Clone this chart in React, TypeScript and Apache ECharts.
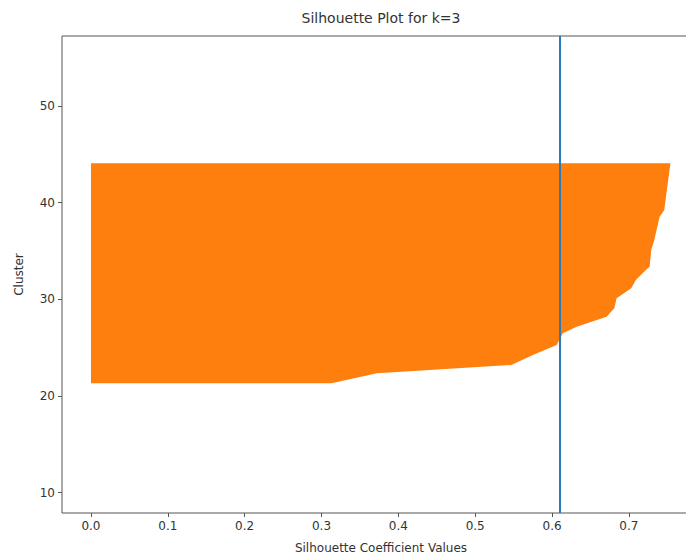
import React, { useEffect, useRef } from "react";
import * as echarts from "echarts";

// Silhouette sample positions (y) and coefficient values (x)
const yPositions = [21.3, 22.34, 23.2, 24.23, 25.27, 26.48, 27.16, 28.2, 28.55, 29.07, 30.1, 31.14, 32.0, 33.03, 33.37, 35.1, 36.14, 38.55, 39.24, 44.08];
const silhouetteValues = [0.313, 0.372, 0.547, 0.575, 0.606, 0.614, 0.632, 0.671, 0.675, 0.681, 0.684, 0.703, 0.709, 0.722, 0.727, 0.729, 0.733, 0.74, 0.746, 0.754];
const averageScore = 0.615;
const xTicks = [0, 0.1, 0.2, 0.3, 0.4, 0.5, 0.6, 0.7];
const yTicks = [10, 20, 30, 40, 50];
const titleText = "Silhouette Plot for k=3";
const xName = "Silhouette Coefficient Values";
const yName = "Cluster";

const FONT = "DejaVu Sans";

export default function App() {
  const ref = useRef<HTMLDivElement>(null);
  useEffect(() => {
    if (!ref.current) return;
    const chart = echarts.init(ref.current, null, { renderer: "svg" });
    const last = yPositions.length - 1;
    chart.setOption({
      animation: false,
      backgroundColor: "#ffffff",
      graphic: [
        {
          type: "text",
          x: 381,
          y: 18,
          style: {
            text: titleText,
            font: `14px "${FONT}"`,
            fill: "#333",
            textAlign: "center",
            textVerticalAlign: "middle",
          },
        },
      ],
      grid: {
        left: 62,
        top: 36,
        right: 60,
        bottom: 46,
        show: true,
        borderColor: "#555",
        borderWidth: 1,
        backgroundColor: "transparent",
      },
      xAxis: {
        type: "value",
        min: -0.0377,
        max: 0.7925,
        name: xName,
        nameLocation: "middle",
        nameGap: 29,
        nameTextStyle: { fontFamily: FONT, fontSize: 12, color: "#333" },
        axisLine: { show: false, onZero: false },
        splitLine: { show: false },
        axisTick: { show: true, length: 4, lineStyle: { color: "#555" }, customValues: xTicks },
        axisLabel: {
          fontFamily: FONT,
          fontSize: 12,
          color: "#333",
          margin: 7,
          customValues: xTicks,
          formatter: (v: number) => v.toFixed(1),
        },
      },
      yAxis: {
        type: "value",
        min: 7.88,
        max: 57.26,
        name: yName,
        nameLocation: "middle",
        nameGap: 37,
        nameTextStyle: { fontFamily: FONT, fontSize: 12, color: "#333" },
        axisLine: { show: false, onZero: false },
        splitLine: { show: false },
        axisTick: { show: true, length: 4, lineStyle: { color: "#555" }, customValues: yTicks },
        axisLabel: {
          fontFamily: FONT,
          fontSize: 12,
          color: "#333",
          margin: 7,
          customValues: yTicks,
          formatter: (v: number) => String(Math.round(v)),
        },
      },
      series: [
        {
          type: "custom",
          data: silhouetteValues.map((v, i) => [v, yPositions[i]]),
          renderItem: (params: any, api: any) => {
            if (params.dataIndex !== 0) return null;
            const pts: number[][] = [api.coord([0, yPositions[0]])];
            for (let i = 0; i <= last; i++) pts.push(api.coord([silhouetteValues[i], yPositions[i]]));
            pts.push(api.coord([0, yPositions[last]]));
            return { type: "polygon", shape: { points: pts }, style: { fill: "#ff7f0e" } };
          },
          markLine: {
            silent: true,
            symbol: "none",
            label: { show: false },
            lineStyle: { color: "#2a7ab8", width: 2, type: "solid" },
            data: [{ xAxis: averageScore }],
          },
        },
      ],
    });
    return () => chart.dispose();
  }, []);
  return (
    <div style={{ position: "absolute", left: 0, top: 0, width: 686, height: 559, overflow: "hidden", background: "#fff" }}>
      <div ref={ref} style={{ width: 760, height: 559 }} />
    </div>
  );
}
